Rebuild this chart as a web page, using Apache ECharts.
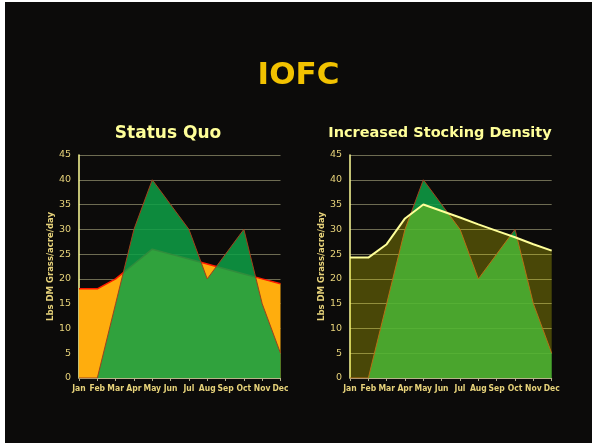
<!DOCTYPE html>
<html><head><meta charset="utf-8">
<script src="https://cdn.jsdelivr.net/npm/echarts@6/dist/echarts.min.js"></script>
<style>
html,body{margin:0;padding:0;background:#fff;width:596px;height:447px;overflow:hidden}
#c{position:absolute;left:5px;top:2px;width:587px;height:441px;background:#0c0b0a}
</style></head><body>
<div id="c"></div>
<script>
const months = ['Jan','Feb','Mar','Apr','May','Jun','Jul','Aug','Sep','Oct','Nov','Dec'];
const growth = [0,0,15,30,40,35,30,20,25,30,15,5];
const demandStatusQuo = [18,18,20,23,26,25,24,23,22,21,20,19];
const demandIncreased = [24.3,24.3,27,32.2,35,33.7,32.4,31,29.7,28.4,27,25.7];
const yTicks = {min:0,max:45,interval:5};
const titles = ['IOFC','Status Quo','Increased Stocking Density'];
const yName = 'Lbs DM Grass/acre/day';

const chart = echarts.init(document.getElementById('c'), null, {renderer:'canvas'});
const font = 'DejaVu Sans';
function xAxis(i){
  return {type:'category',gridIndex:i,data:months,boundaryGap:false,
    axisLine:{lineStyle:{color:'#b8b48a',width:1}},
    axisTick:{show:true,length:3,lineStyle:{color:'#b8b48a'}},
    axisLabel:{color:'#e6d27a',fontSize:8.5,fontFamily:'DejaVu Sans Condensed',fontWeight:'bold',interval:0,margin:6}};
}
function yAxis(i){
  return {type:'value',gridIndex:i,min:yTicks.min,max:yTicks.max,interval:yTicks.interval,
    name:yName,nameLocation:'middle',nameGap:24,nameRotate:90,
    nameTextStyle:{color:'#e6d27a',fontSize:8.5,fontFamily:font,fontWeight:'bold'},
    axisLine:{show:true,lineStyle:{color:'#ffff99',width:1.5}},
    axisTick:{show:false},
    splitLine:{lineStyle:{color:'#6e6c52',width:1}},
    axisLabel:{color:'#e6d27a',fontSize:9.5,fontFamily:font,margin:8}};
}
const greenSeries = (i)=>({type:'line',xAxisIndex:i,yAxisIndex:i,data:growth,symbol:'none',z:3,
  lineStyle:{color:'#a0401c',width:1},areaStyle:{color:'rgba(14,160,70,0.86)',opacity:1}});
chart.setOption({
  animation:false,
  backgroundColor:'#0c0b0a',
  title:[
    {text:titles[0],left:'center',top:53,textStyle:{color:'#f2c200',fontSize:31,fontWeight:'bold',fontFamily:font}},
    {text:titles[1],left:158,top:118,textAlign:'center',textStyle:{color:'#ffff99',fontSize:17,fontWeight:'bold',fontFamily:font}},
    {text:titles[2],left:430,top:119,textAlign:'center',textStyle:{color:'#ffff99',fontSize:14.5,fontWeight:'bold',fontFamily:font}}
  ],
  grid:[
    {left:74,top:153,width:201.5,height:223},
    {left:345,top:153,width:201.7,height:223}
  ],
  xAxis:[xAxis(0),xAxis(1)],
  yAxis:[yAxis(0),yAxis(1)],
  series:[
    {type:'line',xAxisIndex:0,yAxisIndex:0,data:demandStatusQuo,symbol:'none',z:2,
      lineStyle:{color:'#ff1a00',width:1.5},areaStyle:{color:'#ffad0d',opacity:1}},
    greenSeries(0),
    greenSeries(1),
    {type:'line',xAxisIndex:1,yAxisIndex:1,data:demandIncreased,symbol:'none',z:4,
      lineStyle:{color:'#ffff99',width:2},areaStyle:{color:'rgba(250,245,0,0.26)',opacity:1}}
  ]
});
</script></body></html>
